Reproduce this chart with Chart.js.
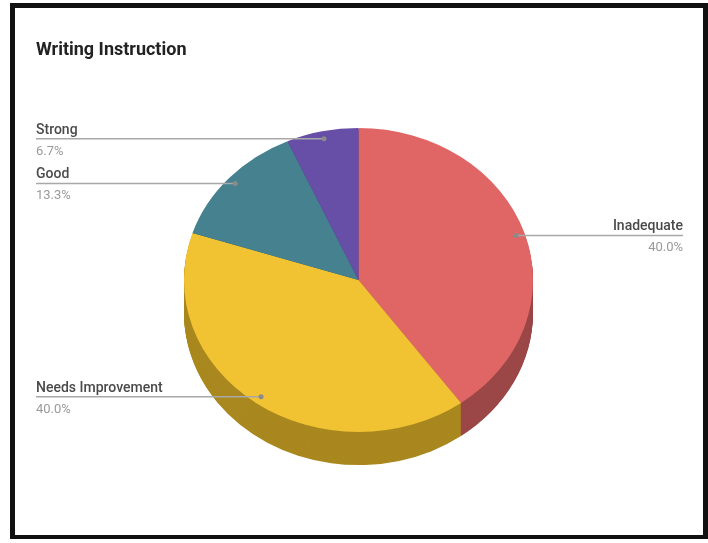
<!DOCTYPE html>
<html>
<head>
<meta charset="utf-8">
<script src="https://cdn.jsdelivr.net/npm/chart.js@4.4.1/dist/chart.umd.min.js"></script>
<style>
  html, body { margin: 0; padding: 0; background: #fff; }
  #frame {
    position: absolute; left: 10px; top: 3px; width: 688px; height: 527px;
    border-style: solid; border-color: #111; border-width: 5px 5px 4px 5px;
  }
  #chart { position: absolute; left: 0; top: 0; }
</style>
</head>
<body>
<div id="frame"></div>
<canvas id="chart" width="708" height="543"></canvas>
<script>
const chartTitle = 'Writing Instruction';
const categories = ['Inadequate', 'Needs Improvement', 'Good', 'Strong'];
const counts     = [6, 6, 2, 1];
const topColors  = ['#e06666', '#f1c232', '#45818e', '#674ea7'];
const sideColors = ['#9c4747', '#a9881f', '#30606a', '#4a3779'];

// the reference pie is tilted: squash the circle and add a side wall
const tilt  = 0.871;
const depth = 33;

function pct(v) {
    const total = counts.reduce((s, x) => s + x, 0);
    return (v / total * 100).toFixed(1) + '%';
}

const tiltPlugin = {
    id: 'tilt',
    beforeDatasetsDraw(chart) {
        const ctx = chart.ctx;
        const arcs = chart.getDatasetMeta(0).data;
        const cx = arcs[0].x, cy = arcs[0].y;
        ctx.save();
        ctx.translate(cx, cy);
        ctx.scale(1, tilt);
        ctx.translate(-cx, -cy);
        // side wall: stack darker copies under the top face
        for (let d = Math.round(depth / tilt); d >= 1; d--) {
            arcs.forEach((arc, i) => {
                const p = arc.getProps(['x', 'y', 'startAngle', 'endAngle', 'outerRadius']);
                ctx.beginPath();
                ctx.moveTo(p.x, p.y + d);
                ctx.arc(p.x, p.y + d, p.outerRadius, p.startAngle, p.endAngle);
                ctx.closePath();
                ctx.fillStyle = sideColors[i];
                ctx.fill();
            });
        }
    },
    afterDatasetsDraw(chart) {
        chart.ctx.restore();
    }
};

const labelPlugin = {
    id: 'sliceLabels',
    afterDraw(chart) {
        const ctx = chart.ctx;
        const arcs = chart.getDatasetMeta(0).data;

        ctx.save();
        ctx.fillStyle = '#222';
        ctx.font = 'bold 18px Roboto';
        ctx.textAlign = 'left';
        ctx.textBaseline = 'alphabetic';
        ctx.fillText(chartTitle, 36, 55);

        arcs.forEach((arc, i) => {
            const p = arc.getProps(['x', 'y', 'startAngle', 'endAngle', 'outerRadius']);
            const mid = (p.startAngle + p.endAngle) / 2;
            const ax = p.x + 0.95 * p.outerRadius * Math.cos(mid);
            const ay = p.y + 0.95 * p.outerRadius * tilt * Math.sin(mid);
            const left = Math.cos(mid) < 0;
            const tx = left ? 36 : 683;

            ctx.strokeStyle = '#a8a8a8';
            ctx.lineWidth = 1.5;
            ctx.beginPath();
            ctx.moveTo(ax, ay);
            ctx.lineTo(tx, ay);
            ctx.stroke();

            ctx.fillStyle = '#8a8a8a';
            ctx.beginPath();
            ctx.arc(ax, ay, 2.5, 0, Math.PI * 2);
            ctx.fill();

            ctx.textAlign = left ? 'left' : 'right';
            ctx.font = '500 14px Roboto';
            ctx.fillStyle = '#4a4a4a';
            ctx.fillText(categories[i], tx, ay - 5);
            ctx.font = '13px Roboto';
            ctx.fillStyle = '#9a9a9a';
            ctx.fillText(pct(counts[i]), tx, ay + 16);
        });
        ctx.restore();
    }
};

new Chart(document.getElementById('chart'), {
    type: 'pie',
    data: {
        labels: categories,
        datasets: [{
            data: counts,
            backgroundColor: topColors,
            borderWidth: 0,
            hoverOffset: 0
        }]
    },
    options: {
        responsive: false,
        animation: false,
        layout: { padding: { left: 184, right: 175, top: 105.5, bottom: 88.5 } },
        plugins: {
            legend: { display: false },
            title: { display: false },
            tooltip: { enabled: false }
        }
    },
    plugins: [tiltPlugin, labelPlugin]
});
</script>
</body>
</html>
